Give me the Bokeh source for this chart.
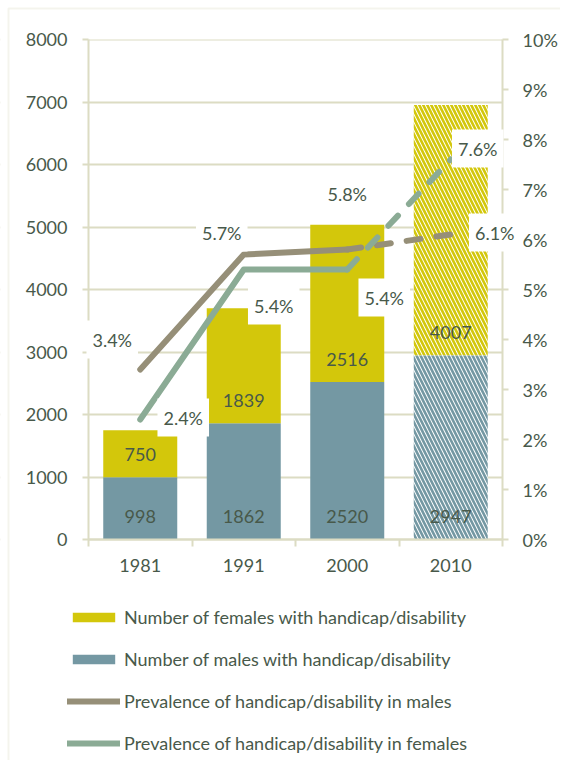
from bokeh.plotting import figure
from bokeh.models import (ColumnDataSource, Range1d, LinearAxis, FixedTicker, Label, LabelSet,
                          Legend, LegendItem, PrintfTickFormatter, BoxAnnotation)
from bokeh.core.properties import value
from bokeh.embed import file_html
from bokeh.resources import INLINE

# ---------------- data ----------------
years = ["1981", "1991", "2000", "2010"]
males = [998, 1862, 2520, 2947]
females = [750, 1839, 2516, 4007]
male_prev = [3.4, 5.7, 5.8, 6.1]
female_prev = [2.4, 5.4, 5.4, 7.6]
count_ticks = [0, 1000, 2000, 3000, 4000, 5000, 6000, 7000, 8000]
pct_ticks = [0, 1, 2, 3, 4, 5, 6, 7, 8, 9, 10]
n_observed = 3  # last year is a projection (hatched bars, dashed lines)

legend_labels = [
    "Number of females with handicap/disability",
    "Number of males with handicap/disability",
    "Prevalence of handicap/disability in males",
    "Prevalence of handicap/disability in females",
]

# ---------------- style / layout (pixels) ----------------
FONT = "Lato"
TXT = "#48594a"
GRID = "#dcdcc3"
YELLOW = "#d3c70b"
BLUE = "#7498a3"
MLINE = "#968f78"
FLINE = "#8bab95"
FS = "18px"
WIDTH, HEIGHT = 560, 760
AX_L, AX_R, AX_T, AX_B = 88, 502, 39, 539   # where the axes sit on the canvas
FRAME_PX = 8                                 # outer decorative border position

# the plot frame covers the whole canvas; axes are pinned at the data edges
pos = [i + 0.5 for i in range(len(years))]
edges = list(range(len(years) + 1))
slot_px = (AX_R - AX_L) / len(years)
x0, x1 = -AX_L / slot_px, (WIDTH - AX_L) / slot_px
cnt_per_px = count_ticks[-1] / (AX_B - AX_T)
pct_per_px = pct_ticks[-1] / (AX_B - AX_T)
y0, y1 = -(HEIGHT - AX_B) * cnt_per_px, count_ticks[-1] + AX_T * cnt_per_px
q0, q1 = -(HEIGHT - AX_B) * pct_per_px, pct_ticks[-1] + AX_T * pct_per_px

totals = [m + f for m, f in zip(males, females)]
src = ColumnDataSource(dict(x=pos, males=males, females=females, total=totals,
                            zero=[0] * len(years),
                            m_lbl=[str(v) for v in males], f_lbl=[str(v) for v in females]))
obs = ColumnDataSource(dict(x=pos[:n_observed], males=males[:n_observed],
                            total=totals[:n_observed]))
proj = ColumnDataSource(dict(x=pos[n_observed:], males=males[n_observed:],
                             total=totals[n_observed:]))

p = figure(x_range=Range1d(x0, x1), y_range=Range1d(y0, y1),
           width=WIDTH, height=HEIGHT, output_backend="svg", toolbar_location=None,
           min_border_left=0, min_border_right=0, min_border_top=0, min_border_bottom=0)
p.outline_line_color = None
p.background_fill_color = "white"
p.border_fill_color = "white"
p.extra_y_ranges = {"pct": Range1d(q0, q1)}

# gridlines (clipped to the axes span by white boxes)
p.ygrid.ticker = FixedTicker(ticks=count_ticks)
p.ygrid.grid_line_color = GRID
p.ygrid.grid_line_width = 2
p.xgrid.visible = False
p.add_layout(BoxAnnotation(right=edges[0], fill_color="white", fill_alpha=1,
                           line_color=None, level="underlay"))
p.add_layout(BoxAnnotation(left=edges[-1], fill_color="white", fill_alpha=1,
                           line_color=None, level="underlay"))
p.add_layout(BoxAnnotation(bottom=count_ticks[-1], fill_color="white", fill_alpha=1,
                           line_color=None, level="underlay"))

# outer frame line (left and top edges visible)
p.add_layout(BoxAnnotation(left=(FRAME_PX - AX_L) / slot_px,
                           top=(AX_B - FRAME_PX) * cnt_per_px,
                           right=x1 + 1, bottom=y0 - 1000,
                           fill_alpha=0, line_color=GRID, line_width=2, level="underlay"))

# left axis
ya = p.yaxis[0]
ya.fixed_location = edges[0]
ya.bounds = (count_ticks[0], count_ticks[-1])
ya.ticker = FixedTicker(ticks=count_ticks)
ya.axis_line_color = GRID
ya.axis_line_width = 2
ya.major_tick_line_color = GRID
ya.major_tick_line_width = 2
ya.major_tick_out = 6
ya.major_tick_in = 0
ya.minor_tick_line_color = None
ya.major_label_standoff = 15
ya.major_label_text_font = FONT
ya.major_label_text_font_size = FS
ya.major_label_text_color = TXT

# right axis
ra = LinearAxis(y_range_name="pct", ticker=FixedTicker(ticks=pct_ticks),
                formatter=PrintfTickFormatter(format="%d%%"), fixed_location=edges[-1],
                bounds=(pct_ticks[0], pct_ticks[-1]))
ra.axis_line_color = GRID
ra.axis_line_width = 2
ra.major_tick_line_color = GRID
ra.major_tick_line_width = 2
ra.major_tick_out = 6
ra.major_tick_in = 0
ra.minor_tick_line_color = None
ra.major_label_standoff = 14
ra.major_label_text_font = FONT
ra.major_label_text_font_size = FS
ra.major_label_text_color = TXT
p.add_layout(ra, "right")

# bottom axis: year labels at slot centres, tick marks at slot edges
xa = p.xaxis[0]
xa.fixed_location = count_ticks[0]
xa.bounds = (edges[0], edges[-1])
xa.ticker = FixedTicker(ticks=pos, minor_ticks=edges)
xa.major_label_overrides = {c: y for c, y in zip(pos, years)}
xa.axis_line_color = GRID
xa.axis_line_width = 2
xa.major_tick_line_color = None
xa.major_tick_out = 0
xa.major_tick_in = 0
xa.minor_tick_line_color = GRID
xa.minor_tick_line_width = 2
xa.minor_tick_out = 7
xa.minor_tick_in = 0
xa.major_label_standoff = 12
xa.major_label_text_font = FONT
xa.major_label_text_font_size = FS
xa.major_label_text_color = TXT

# bars
W = 0.715
r_m = p.vbar(x="x", bottom=0, top="males", width=W, source=obs,
             fill_color=BLUE, line_color=None)
r_f = p.vbar(x="x", bottom="males", top="total", width=W, source=obs,
             fill_color=YELLOW, line_color=None)
p.vbar(x="x", bottom=0, top="males", width=W, source=proj, fill_color="white",
       line_color=None, hatch_pattern="\\", hatch_color=BLUE, hatch_scale=8, hatch_weight=2.6)
p.vbar(x="x", bottom="males", top="total", width=W, source=proj, fill_color="white",
       line_color=None, hatch_pattern="\\", hatch_color=YELLOW, hatch_scale=8, hatch_weight=2.6)

# lines
lk = dict(y_range_name="pct", line_width=6, line_cap="round", line_join="round")
r_ml = p.line(pos[:n_observed], male_prev[:n_observed], line_color=MLINE, **lk)
p.line(pos[n_observed - 1:], male_prev[n_observed - 1:], line_color=MLINE,
       line_dash="14 16", **lk)
r_fl = p.line(pos[:n_observed], female_prev[:n_observed], line_color=FLINE, **lk)
p.line(pos[n_observed - 1:], female_prev[n_observed - 1:], line_color=FLINE,
       line_dash="14 16", **lk)

# bar value labels (inside base)
for ycol, tcol in (("zero", "m_lbl"), ("males", "f_lbl")):
    p.add_layout(LabelSet(x="x", y=ycol, text=tcol, source=src, y_offset=23,
                          text_align="center", text_baseline="middle",
                          text_font=value(FONT), text_font_size=FS, text_color=TXT))

# prevalence labels with white boxes
male_off = [(-28, 30), (-22, 22), (0, 56), (44, 2)]
female_off = [(43, 2), (30, -36), (37, -28), (27, 11)]
for vals, offs in ((male_prev, male_off), (female_prev, female_off)):
    for x, v, (dx, dy) in zip(pos, vals, offs):
        p.add_layout(Label(x=x, y=v, y_range_name="pct", text=f"{v:.1f}%",
                           x_offset=dx, y_offset=dy, text_align="center",
                           text_baseline="middle", text_font=FONT, text_font_size=FS,
                           text_color=TXT, background_fill_color="white",
                           padding=(6, 8)))

# legend below the axes (frame spans the canvas, so it is not clipped)
legend = Legend(items=[LegendItem(label=legend_labels[0], renderers=[r_f]),
                       LegendItem(label=legend_labels[1], renderers=[r_m]),
                       LegendItem(label=legend_labels[2], renderers=[r_ml]),
                       LegendItem(label=legend_labels[3], renderers=[r_fl])],
                location=(67, 6), orientation="vertical")
legend.border_line_color = None
legend.background_fill_alpha = 0
legend.padding = 0
legend.margin = 0
legend.spacing = 20
legend.glyph_width = 53
legend.glyph_height = 12
legend.label_height = 22
legend.label_standoff = 4
legend.label_text_font = FONT
legend.label_text_font_size = FS
legend.label_text_color = TXT
p.add_layout(legend, "center")

open("out.html", "w").write(file_html(p, INLINE))
